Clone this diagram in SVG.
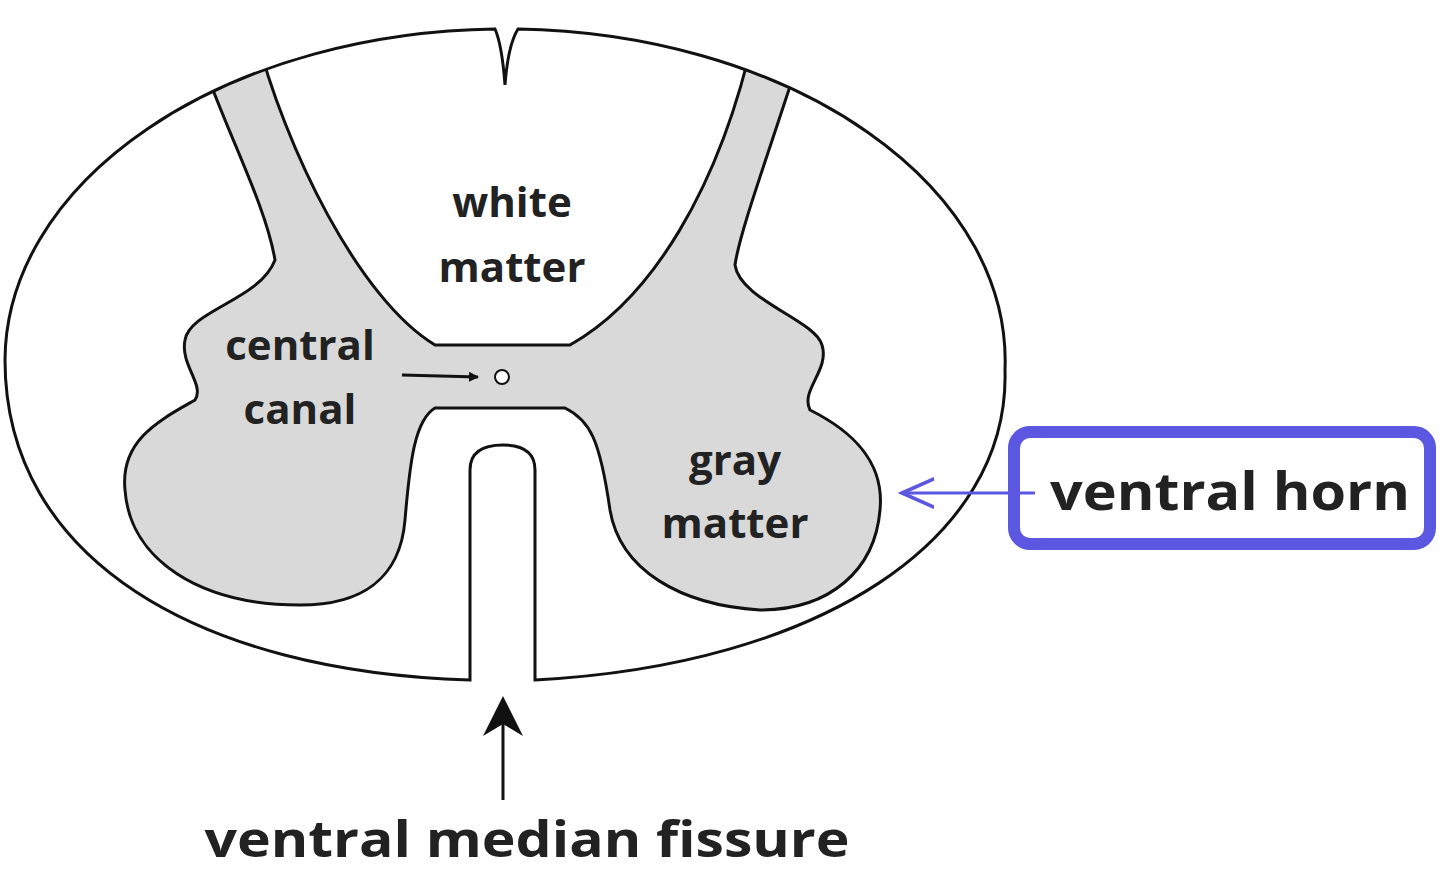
<svg xmlns="http://www.w3.org/2000/svg" width="1440" height="881" viewBox="0 0 1440 881">
<style>
.t{font-family:"Open Sans","Liberation Sans",sans-serif;font-weight:bold;fill:#222;text-anchor:middle}
.o{fill:none;stroke:#111;stroke-width:3}
</style>
<defs>
<path id="outline" d="M518,29 A500 332 0 0 1 1005,370 C1010,540 820,665 535,680 L535,470 Q535,445 503,445 Q470,445 470,470 L470,680 C200,672 5,560 5,360 A500 332 0 0 1 495,29 Q502,45 505,85 Q508,45 518,29 Z"/>
<clipPath id="clip"><use href="#outline"/></clipPath>
<marker id="ah" viewBox="0 0 10 10" refX="9" refY="5" markerWidth="10" markerHeight="10" orient="auto" markerUnits="userSpaceOnUse"><path d="M0,0 L10,5 L0,10 Z" fill="#111"/></marker>
<marker id="ahb" viewBox="0 0 10 10" refX="9" refY="5" markerWidth="36" markerHeight="36" orient="auto" markerUnits="userSpaceOnUse"><path d="M0,1 L9,5 L0,9" fill="none" stroke="#5b57e0" stroke-width="1"/></marker>
<marker id="ahl" viewBox="0 0 10 10" refX="9" refY="5" markerWidth="40" markerHeight="40" orient="auto" markerUnits="userSpaceOnUse"><path d="M0,0 L10,5 L0,10 L3,5 Z" fill="#111"/></marker>
</defs>
<rect width="1440" height="881" fill="#fff"/>
<g id="cord">
<use href="#outline" fill="#fff"/>
</g>
<g id="gray-matter">
<path clip-path="url(#clip)" fill="#d9d9d9" stroke="#111" stroke-width="3" d="M195,40 L255,30 C285,150 360,300 435,345 L570,345 C650,300 720,190 755,30 L805,40 C770,150 740,230 735,265 C740,300 815,320 822,345 C830,370 800,390 810,410 C850,430 885,460 880,510 C875,570 830,610 760,610 C680,605 620,570 610,510 C600,440 590,420 565,408 L435,408 C415,420 410,460 405,520 C400,580 360,605 300,605 C200,605 130,560 125,490 C120,440 160,420 195,400 C205,385 180,365 185,340 C190,310 260,300 275,260 C265,200 220,120 195,40 Z"/>
<circle cx="502" cy="377" r="7" fill="#fff" stroke="#111" stroke-width="2"/>
</g>
<use href="#outline" class="o"/>
<g id="connectors">
<line x1="402" y1="375" x2="478" y2="377" stroke="#111" stroke-width="3" marker-end="url(#ah)"/>
<line x1="503" y1="800" x2="503" y2="700" stroke="#111" stroke-width="3" marker-end="url(#ahl)"/>
<line x1="1035" y1="493" x2="902" y2="493" stroke="#5b57e0" stroke-width="3" marker-end="url(#ahb)"/>
</g>
<g id="labels">
<text class="t" x="512" y="217" font-size="42">white</text>
<text class="t" x="512" y="282" font-size="42">matter</text>
<text class="t" x="300" y="360" font-size="42">central</text>
<text class="t" x="300" y="424" font-size="42">canal</text>
<text class="t" x="735" y="475" font-size="42">gray</text>
<text class="t" x="735" y="538" font-size="42">matter</text>
<text class="t" x="527" y="857" font-size="50" textLength="645" lengthAdjust="spacingAndGlyphs">ventral median fissure</text>
</g>
<g id="ventral-horn">
<rect x="1014" y="432" width="416" height="112" rx="16" fill="none" stroke="#5b57e0" stroke-width="12"/>
<text class="t" x="1230" y="510" font-size="52" fill="#111" textLength="360" lengthAdjust="spacingAndGlyphs">ventral horn</text>
</g>
</svg>
